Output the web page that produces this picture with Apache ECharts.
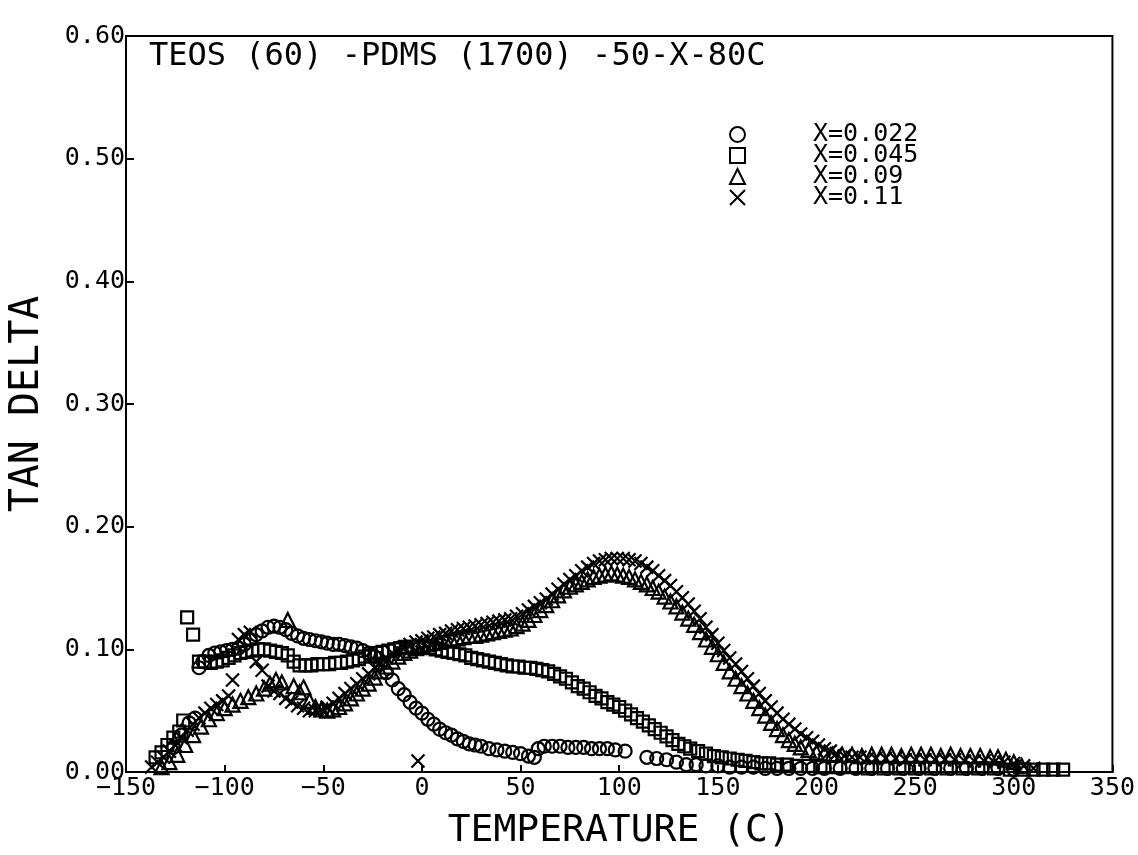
<!DOCTYPE html>
<html>
<head>
<meta charset="utf-8">
<script src="https://cdn.jsdelivr.net/npm/echarts@6/dist/echarts.min.js"></script>
<style>
  html, body { margin: 0; padding: 0; background: #fff; }
  #chart { width: 1138px; height: 855px; }
</style>
</head>
<body>
<div id="chart"></div>
<script>
// tick values / labels
const xTicks = [-150, -100, -50, 0, 50, 100, 150, 200, 250, 300, 350]
const xTickLabels = ['−150', '−100', '−50', '0', '50', '100', '150', '200', '250', '300', '350']
const yTicks = [0, 0.1, 0.2, 0.3, 0.4, 0.5, 0.6]
const yTickLabels = ['0.00', '0.10', '0.20', '0.30', '0.40', '0.50', '0.60']

const seriesNames = ['X=0.022', 'X=0.045', 'X=0.09', 'X=0.11']

// [temperature C, tan delta]
const x022 = [
  [-126, 0.020], [-122, 0.030], [-118, 0.040], [-115, 0.044],
  [-113, 0.085], [-111, 0.090], [-108, 0.095], [-105, 0.097], [-102, 0.098], [-99, 0.099],
  [-96, 0.100], [-93, 0.101], [-90, 0.104], [-87, 0.108], [-84, 0.112], [-81, 0.115],
  [-78, 0.118], [-75, 0.119], [-72, 0.118], [-69, 0.116], [-66, 0.113], [-63, 0.111],
  [-60, 0.109], [-57, 0.108], [-54, 0.107], [-51, 0.106], [-48, 0.105], [-45, 0.104],
  [-42, 0.104], [-39, 0.103], [-36, 0.102], [-33, 0.101], [-30, 0.099], [-27, 0.097],
  [-24, 0.094], [-21, 0.088], [-18, 0.081], [-15, 0.075], [-12, 0.068], [-9, 0.063],
  [-6, 0.057], [-3, 0.052], [0, 0.048], [3, 0.043], [6, 0.039], [9, 0.035], [12, 0.032],
  [15, 0.030], [18, 0.027], [21, 0.025], [24, 0.023], [27, 0.022], [30, 0.021], [34, 0.019],
  [38, 0.018], [42, 0.017], [46, 0.016], [50, 0.015], [54, 0.013], [57, 0.012], [59, 0.019],
  [62, 0.021], [66, 0.021], [70, 0.021], [74, 0.020], [78, 0.020], [82, 0.020], [86, 0.019],
  [90, 0.019], [94, 0.019], [98, 0.018], [103, 0.017], [114, 0.012], [119, 0.011],
  [124, 0.010], [129, 0.008], [134, 0.006], [139, 0.006], [144, 0.005], [150, 0.005],
  [156, 0.004], [162, 0.004], [168, 0.004], [174, 0.003], [180, 0.003], [186, 0.003],
  [192, 0.003], [198, 0.003], [204, 0.003], [212, 0.003], [220, 0.003], [228, 0.003],
  [236, 0.003], [244, 0.003], [252, 0.003], [260, 0.003], [268, 0.003], [276, 0.003],
  [284, 0.003], [292, 0.003], [300, 0.002]
]

const x045 = [
  [-135, 0.012], [-132, 0.016], [-129, 0.022], [-126, 0.028], [-123, 0.033], [-121, 0.042],
  [-119, 0.126], [-116, 0.112], [-113, 0.090], [-110, 0.090], [-107, 0.089], [-104, 0.090],
  [-101, 0.091], [-98, 0.093], [-95, 0.095], [-92, 0.097], [-89, 0.098], [-86, 0.099],
  [-83, 0.100], [-80, 0.100], [-77, 0.099], [-74, 0.098], [-71, 0.097], [-68, 0.095],
  [-65, 0.090], [-62, 0.087], [-59, 0.087], [-56, 0.087], [-53, 0.088], [-50, 0.088],
  [-47, 0.088], [-44, 0.089], [-41, 0.089], [-38, 0.090], [-35, 0.091], [-32, 0.092],
  [-29, 0.094], [-26, 0.095], [-23, 0.097], [-20, 0.098], [-17, 0.099], [-14, 0.100],
  [-11, 0.101], [-8, 0.102], [-5, 0.102], [-2, 0.102], [1, 0.102], [4, 0.101], [7, 0.100],
  [10, 0.099], [13, 0.098], [16, 0.097], [19, 0.096], [22, 0.095], [25, 0.093], [28, 0.092],
  [31, 0.091], [34, 0.090], [37, 0.089], [40, 0.088], [43, 0.087], [46, 0.086], [49, 0.086],
  [52, 0.085], [55, 0.085], [58, 0.084], [61, 0.083], [64, 0.082], [67, 0.080], [70, 0.078],
  [73, 0.076], [76, 0.073], [79, 0.070], [82, 0.068], [85, 0.065], [88, 0.062], [91, 0.060],
  [94, 0.057], [97, 0.055], [100, 0.053], [103, 0.050], [106, 0.047], [109, 0.044],
  [112, 0.041], [115, 0.038], [118, 0.035], [121, 0.032], [124, 0.029], [127, 0.026],
  [130, 0.023], [133, 0.021], [136, 0.019], [140, 0.017], [144, 0.015], [148, 0.013],
  [152, 0.012], [156, 0.011], [160, 0.010], [164, 0.009], [168, 0.008], [172, 0.007],
  [176, 0.007], [180, 0.006], [185, 0.006], [190, 0.005], [196, 0.005], [202, 0.004],
  [210, 0.004], [218, 0.004], [226, 0.003], [234, 0.003], [242, 0.003], [250, 0.003],
  [258, 0.003], [266, 0.003], [274, 0.003], [282, 0.003], [290, 0.003], [298, 0.002],
  [305, 0.002], [310, 0.002], [315, 0.002], [320, 0.002], [325, 0.002]
]

const x09 = [
  [-132, 0.004], [-128, 0.008], [-124, 0.014], [-120, 0.022], [-116, 0.030], [-112, 0.037],
  [-108, 0.043], [-104, 0.048], [-100, 0.052], [-96, 0.055], [-92, 0.058], [-88, 0.061],
  [-84, 0.064], [-80, 0.068], [-77, 0.072], [-74, 0.075], [-71, 0.073], [-68, 0.124],
  [-65, 0.070], [-62, 0.065], [-60, 0.069], [-57, 0.058], [-54, 0.053], [-51, 0.051],
  [-48, 0.050], [-45, 0.051], [-42, 0.053], [-39, 0.056], [-36, 0.060], [-33, 0.064],
  [-30, 0.068], [-27, 0.072], [-24, 0.077], [-21, 0.082], [-18, 0.086], [-15, 0.090],
  [-12, 0.094], [-9, 0.097], [-6, 0.099], [-3, 0.101], [0, 0.103], [3, 0.104], [6, 0.105],
  [9, 0.106], [12, 0.107], [15, 0.108], [18, 0.109], [21, 0.110], [24, 0.111], [27, 0.111],
  [30, 0.112], [33, 0.113], [36, 0.114], [39, 0.115], [42, 0.116], [45, 0.117], [48, 0.119],
  [51, 0.121], [54, 0.124], [57, 0.128], [60, 0.132], [63, 0.136], [66, 0.140], [69, 0.144],
  [72, 0.148], [75, 0.151], [78, 0.153], [81, 0.155], [84, 0.157], [87, 0.159], [90, 0.160],
  [93, 0.161], [96, 0.162], [99, 0.161], [102, 0.160], [105, 0.159], [108, 0.157],
  [111, 0.155], [114, 0.153], [117, 0.150], [120, 0.147], [123, 0.143], [126, 0.139],
  [129, 0.135], [132, 0.130], [135, 0.125], [138, 0.120], [141, 0.114], [144, 0.108],
  [147, 0.102], [150, 0.096], [153, 0.089], [156, 0.082], [159, 0.076], [162, 0.070],
  [165, 0.064], [168, 0.058], [171, 0.052], [174, 0.046], [177, 0.040], [180, 0.035],
  [183, 0.030], [186, 0.026], [189, 0.023], [192, 0.020], [196, 0.018], [200, 0.016],
  [204, 0.015], [208, 0.014], [213, 0.014], [218, 0.014], [223, 0.013], [228, 0.014],
  [233, 0.014], [238, 0.014], [243, 0.013], [248, 0.014], [253, 0.014], [258, 0.014],
  [263, 0.013], [268, 0.014], [273, 0.013], [278, 0.013], [283, 0.013], [288, 0.012],
  [292, 0.012], [296, 0.010], [300, 0.008], [304, 0.005]
]

const x11 = [
  [-137, 0.004], [-134, 0.008], [-131, 0.012], [-128, 0.017], [-125, 0.022], [-122, 0.028],
  [-119, 0.034], [-116, 0.039], [-113, 0.044], [-110, 0.048], [-107, 0.052], [-104, 0.055],
  [-101, 0.058], [-98, 0.062], [-96, 0.075], [-93, 0.108], [-90, 0.112], [-87, 0.114],
  [-84, 0.090], [-81, 0.083], [-78, 0.070], [-75, 0.066], [-72, 0.064], [-69, 0.060],
  [-66, 0.057], [-63, 0.054], [-60, 0.052], [-57, 0.050], [-54, 0.050], [-51, 0.051],
  [-48, 0.053], [-45, 0.056], [-42, 0.060], [-39, 0.064], [-36, 0.068], [-33, 0.072],
  [-30, 0.076], [-27, 0.080], [-24, 0.085], [-21, 0.089], [-18, 0.093], [-15, 0.097],
  [-12, 0.100], [-9, 0.102], [-6, 0.104], [-3, 0.106], [-2, 0.009], [0, 0.107], [3, 0.109],
  [6, 0.110], [9, 0.112], [12, 0.113], [15, 0.115], [18, 0.116], [21, 0.117], [24, 0.118],
  [27, 0.119], [30, 0.120], [33, 0.121], [36, 0.122], [39, 0.123], [42, 0.124], [45, 0.125],
  [48, 0.127], [51, 0.129], [54, 0.132], [57, 0.135], [60, 0.138], [63, 0.141], [66, 0.145],
  [69, 0.149], [72, 0.153], [75, 0.157], [78, 0.160], [81, 0.164], [84, 0.167], [87, 0.170],
  [90, 0.172], [93, 0.173], [96, 0.174], [99, 0.174], [102, 0.174], [105, 0.173],
  [108, 0.172], [111, 0.170], [114, 0.167], [117, 0.164], [120, 0.160], [123, 0.156],
  [126, 0.152], [129, 0.147], [132, 0.142], [135, 0.137], [138, 0.131], [141, 0.125],
  [144, 0.118], [147, 0.112], [150, 0.105], [153, 0.099], [156, 0.093], [159, 0.088],
  [162, 0.082], [165, 0.076], [168, 0.070], [171, 0.064], [174, 0.058], [177, 0.053],
  [180, 0.048], [183, 0.043], [186, 0.039], [189, 0.035], [192, 0.031], [195, 0.028],
  [198, 0.025], [201, 0.022], [204, 0.019], [207, 0.017], [210, 0.015], [214, 0.013],
  [218, 0.012], [222, 0.012], [226, 0.011], [230, 0.011], [235, 0.011], [240, 0.011],
  [245, 0.010], [250, 0.010], [255, 0.010], [260, 0.010], [265, 0.010], [270, 0.010],
  [275, 0.009], [280, 0.009], [285, 0.009], [290, 0.008], [295, 0.008], [300, 0.007],
  [305, 0.005], [310, 0.003]
]

const FONT = '"DejaVu Sans Mono", monospace'
const crossPath = 'path://M0,0L10,10M10,0L0,10'

const chart = echarts.init(document.getElementById('chart'), null, { renderer: 'canvas' })

function scatter(name, data, symbol, size) {
  return {
    name,
    type: 'scatter',
    data,
    symbol,
    symbolSize: size,
    itemStyle: {
      color: 'rgba(0,0,0,0)',
      borderColor: '#000',
      borderWidth: 2.2,
      opacity: 1
    },
    emphasis: { disabled: true },
    animation: false
  }
}

chart.setOption({
  backgroundColor: '#fff',
  animation: false,
  title: {
    text: 'TEOS (60) -PDMS (1700) -50-X-80C',
    left: 144,
    top: 36,
    textStyle: { fontFamily: FONT, fontSize: 32, fontWeight: 'normal', color: '#000' }
  },
  legend: {
    orient: 'vertical',
    left: 724,
    top: 117,
    itemWidth: 15,
    itemHeight: 15,
    itemGap: -4,
    selectedMode: false,
    data: seriesNames,
    textStyle: {
      fontFamily: FONT,
      fontSize: 25,
      color: '#000',
      padding: [0, 0, 0, 63]
    }
  },
  grid: {
    left: 126,
    right: 17,
    top: 36,
    bottom: 83,
    show: true,
    borderColor: '#000',
    borderWidth: 2,
    containLabel: false
  },
  xAxis: {
    type: 'value',
    min: -150,
    max: 350,
    interval: 50,
    name: 'TEMPERATURE (C)',
    nameLocation: 'middle',
    nameGap: 40,
    nameTextStyle: { fontFamily: FONT, fontSize: 38, color: '#000', align: 'center' },
    axisLine: { onZero: false, lineStyle: { color: '#000', width: 2 } },
    axisTick: { inside: true, length: 7, lineStyle: { color: '#000', width: 2 } },
    splitLine: { show: false },
    axisLabel: {
      fontFamily: FONT,
      fontSize: 25,
      color: '#000',
      margin: 4,
      formatter: v => xTickLabels[xTicks.indexOf(v)]
    }
  },
  yAxis: {
    type: 'value',
    min: 0,
    max: 0.6,
    interval: 0.1,
    name: 'TAN DELTA',
    nameLocation: 'middle',
    nameGap: 78,
    nameTextStyle: { fontFamily: FONT, fontSize: 40, color: '#000' },
    axisLine: { show: true, onZero: false, lineStyle: { color: '#000', width: 2 } },
    axisTick: { show: true, inside: true, length: 8, lineStyle: { color: '#000', width: 2 } },
    splitLine: { show: false },
    axisLabel: {
      fontFamily: FONT,
      fontSize: 25,
      color: '#000',
      margin: 1,
      verticalAlign: 'middle',
      formatter: v => yTickLabels[yTicks.findIndex(t => Math.abs(t - v) < 1e-6)]
    }
  },
  series: [
    scatter(seriesNames[0], x022, 'circle', 13),
    scatter(seriesNames[1], x045, 'rect', 12),
    scatter(seriesNames[2], x09, 'triangle', 14),
    scatter(seriesNames[3], x11, crossPath, 13)
  ]
})
</script>
</body>
</html>
